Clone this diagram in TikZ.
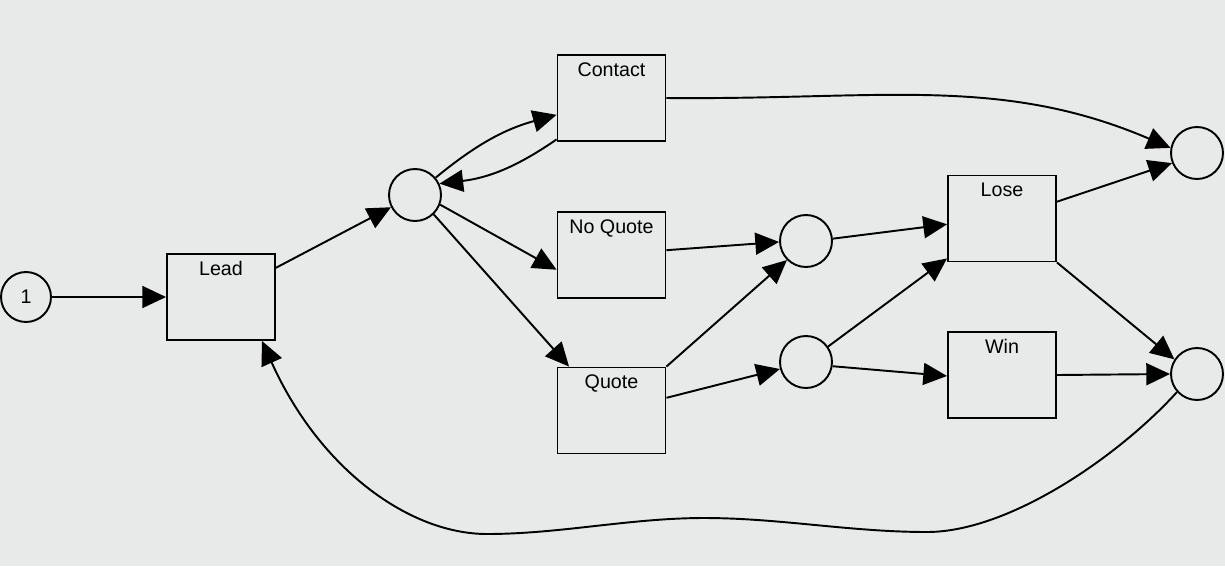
\documentclass[tikz,border=0pt]{standalone}
\usepackage{fontspec}
\setmainfont{Liberation Sans}
\usetikzlibrary{arrows.meta}
\definecolor{bg}{HTML}{E8EAE9}
\begin{document}
\begin{tikzpicture}[x=0.02cm,y=-0.02cm,
  every node/.style={font=\fontsize{11.2}{13}\selectfont},
  place/.style={draw,circle,line width=1.1pt,inner sep=0pt,minimum size=1.04cm},
  trans/.style={draw,rectangle,line width=1.1pt,minimum width=2.16cm,minimum height=1.72cm,
    label={[anchor=base,yshift=-0.44cm]north:#1}},
  arc/.style={line width=1.1pt,-{Triangle[length=13.5pt,width=12.5pt]}}]
\fill[bg] (0,0) rectangle (1225,566);
\useasboundingbox (0,0) rectangle (1225,566);
% nodes
\node[place,minimum size=1cm] (s1) at (26,297) {1};
\node[trans=Lead] (lead) at (221,297) {};
\node[place] (p1) at (415,195) {};
\node[trans=Contact] (contact) at (611.5,98) {};
\node[trans=No Quote] (noquote) at (611.5,255) {};
\node[trans=Quote] (quote) at (611.5,410.5) {};
\node[place] (p2) at (806,241) {};
\node[place] (p3) at (806,362) {};
\node[trans=Lose] (lose) at (1002,218.5) {};
\node[trans=Win] (win) at (1002,375) {};
\node[place] (p4) at (1197,153) {};
\node[place] (p5) at (1197,374) {};
% arcs
\draw[arc] (s1.east) -- (lead.west);
\draw[arc] (lead.28) -- (p1.207);
\draw[arc] (p1.40) to[bend left=12] (contact.197);
\draw[arc] (contact.217) to[bend left=14] (p1.25);
\draw[arc] (p1.-21) -- (noquote.195);
\draw[arc] (p1.-46) -- (quote.134);
\draw[arc] (contact.east) .. controls (880,100) and (1000,75) .. (p4.169);
\draw[arc] (noquote.5) -- (p2.182);
\draw[arc] (quote.north east) -- (p2.225);
\draw[arc] (quote.13) -- (p3.195);
\draw[arc] (p2.5) -- (lose.186);
\draw[arc] (p3.35) -- (lose.216);
\draw[arc] (p3.-9) -- (win.181);
\draw[arc] (lose.17) -- (p4.202);
\draw[arc] (lose.south east) -- (p5.147);
\draw[arc] (win.east) -- (p5.180);
\draw[arc] (p5.222) .. controls (1120,455) and (1010,532) .. (927,532)
  .. controls (850,532) and (780,518) .. (704,518)
  .. controls (630,518) and (560,534) .. (487,534)
  .. controls (410,534) and (320,470) .. (lead.-47);
\end{tikzpicture}
\end{document}
